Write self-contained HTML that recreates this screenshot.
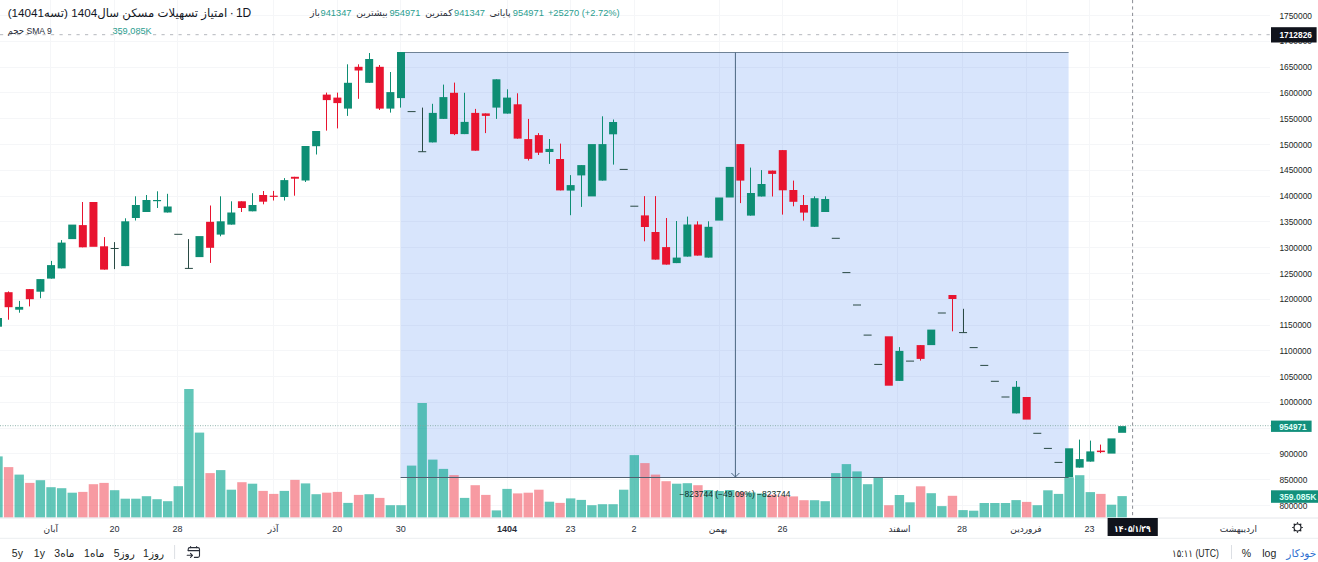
<!DOCTYPE html>
<html lang="fa"><head><meta charset="utf-8"><title>chart</title>
<style>html,body{margin:0;padding:0;background:#fff}body{width:1318px;height:562px;overflow:hidden;position:relative}</style></head>
<body>
<svg width="1318" height="562" viewBox="0 0 1318 562" style="position:absolute;left:0;top:0;display:block">
<rect x="0" y="0" width="1318" height="562" fill="#fff"/>
<g stroke="#f5f6f8" stroke-width="1" shape-rendering="crispEdges">
<line x1="0" y1="505.5" x2="1270" y2="505.5"/>
<line x1="0" y1="479.7" x2="1270" y2="479.7"/>
<line x1="0" y1="453.9" x2="1270" y2="453.9"/>
<line x1="0" y1="428.1" x2="1270" y2="428.1"/>
<line x1="0" y1="402.4" x2="1270" y2="402.4"/>
<line x1="0" y1="376.6" x2="1270" y2="376.6"/>
<line x1="0" y1="350.8" x2="1270" y2="350.8"/>
<line x1="0" y1="325.0" x2="1270" y2="325.0"/>
<line x1="0" y1="299.2" x2="1270" y2="299.2"/>
<line x1="0" y1="273.4" x2="1270" y2="273.4"/>
<line x1="0" y1="247.6" x2="1270" y2="247.6"/>
<line x1="0" y1="221.8" x2="1270" y2="221.8"/>
<line x1="0" y1="196.0" x2="1270" y2="196.0"/>
<line x1="0" y1="170.2" x2="1270" y2="170.2"/>
<line x1="0" y1="144.4" x2="1270" y2="144.4"/>
<line x1="0" y1="118.7" x2="1270" y2="118.7"/>
<line x1="0" y1="92.9" x2="1270" y2="92.9"/>
<line x1="0" y1="67.1" x2="1270" y2="67.1"/>
<line x1="0" y1="41.3" x2="1270" y2="41.3"/>
<line x1="0" y1="15.5" x2="1270" y2="15.5"/>
<line x1="50.8" y1="0" x2="50.8" y2="517.5"/>
<line x1="114.5" y1="0" x2="114.5" y2="517.5"/>
<line x1="177.6" y1="0" x2="177.6" y2="517.5"/>
<line x1="273.1" y1="0" x2="273.1" y2="517.5"/>
<line x1="337.2" y1="0" x2="337.2" y2="517.5"/>
<line x1="400.7" y1="0" x2="400.7" y2="517.5"/>
<line x1="507.0" y1="0" x2="507.0" y2="517.5"/>
<line x1="570.5" y1="0" x2="570.5" y2="517.5"/>
<line x1="634.0" y1="0" x2="634.0" y2="517.5"/>
<line x1="719.2" y1="0" x2="719.2" y2="517.5"/>
<line x1="782.5" y1="0" x2="782.5" y2="517.5"/>
<line x1="897.0" y1="0" x2="897.0" y2="517.5"/>
<line x1="962.0" y1="0" x2="962.0" y2="517.5"/>
<line x1="1026.0" y1="0" x2="1026.0" y2="517.5"/>
<line x1="1089.5" y1="0" x2="1089.5" y2="517.5"/>
</g>
<rect x="400.6" y="52.5" width="668.0" height="425.0" fill="#3d7ef0" fill-opacity="0.2"/>
<g>
<rect x="0.00" y="456.4" width="2.69" height="61.2" fill="rgba(14,167,146,0.65)"/>
<rect x="3.90" y="467.1" width="9.40" height="50.5" fill="rgba(243,100,112,0.65)"/>
<rect x="14.50" y="474.6" width="9.40" height="43.0" fill="rgba(14,167,146,0.65)"/>
<rect x="25.11" y="482.9" width="9.40" height="34.7" fill="rgba(243,100,112,0.65)"/>
<rect x="35.71" y="480.2" width="9.40" height="37.4" fill="rgba(14,167,146,0.65)"/>
<rect x="46.32" y="487.2" width="9.40" height="30.4" fill="rgba(14,167,146,0.65)"/>
<rect x="56.93" y="488.2" width="9.40" height="29.4" fill="rgba(14,167,146,0.65)"/>
<rect x="67.53" y="492.7" width="9.40" height="24.9" fill="rgba(14,167,146,0.65)"/>
<rect x="78.13" y="491.9" width="9.40" height="25.7" fill="rgba(243,100,112,0.65)"/>
<rect x="88.74" y="484.2" width="9.40" height="33.4" fill="rgba(243,100,112,0.65)"/>
<rect x="99.34" y="482.9" width="9.40" height="34.7" fill="rgba(243,100,112,0.65)"/>
<rect x="109.95" y="490.2" width="9.40" height="27.4" fill="rgba(14,167,146,0.65)"/>
<rect x="120.55" y="498.7" width="9.40" height="18.9" fill="rgba(14,167,146,0.65)"/>
<rect x="131.16" y="498.7" width="9.40" height="18.9" fill="rgba(14,167,146,0.65)"/>
<rect x="141.77" y="496.2" width="9.40" height="21.4" fill="rgba(14,167,146,0.65)"/>
<rect x="152.37" y="499.2" width="9.40" height="18.4" fill="rgba(14,167,146,0.65)"/>
<rect x="162.98" y="501.2" width="9.40" height="16.4" fill="rgba(14,167,146,0.65)"/>
<rect x="173.58" y="486.2" width="9.40" height="31.4" fill="rgba(14,167,146,0.65)"/>
<rect x="184.19" y="389.0" width="9.40" height="128.6" fill="rgba(14,167,146,0.65)"/>
<rect x="194.79" y="432.6" width="9.40" height="85.0" fill="rgba(14,167,146,0.65)"/>
<rect x="205.40" y="473.1" width="9.40" height="44.5" fill="rgba(243,100,112,0.65)"/>
<rect x="216.00" y="470.1" width="9.40" height="47.5" fill="rgba(14,167,146,0.65)"/>
<rect x="226.61" y="489.7" width="9.40" height="27.9" fill="rgba(14,167,146,0.65)"/>
<rect x="237.21" y="482.2" width="9.40" height="35.4" fill="rgba(243,100,112,0.65)"/>
<rect x="247.82" y="483.7" width="9.40" height="33.9" fill="rgba(14,167,146,0.65)"/>
<rect x="258.42" y="490.9" width="9.40" height="26.7" fill="rgba(243,100,112,0.65)"/>
<rect x="269.03" y="493.9" width="9.40" height="23.7" fill="rgba(243,100,112,0.65)"/>
<rect x="279.63" y="490.9" width="9.40" height="26.7" fill="rgba(14,167,146,0.65)"/>
<rect x="290.24" y="479.9" width="9.40" height="37.7" fill="rgba(243,100,112,0.65)"/>
<rect x="300.84" y="483.4" width="9.40" height="34.2" fill="rgba(14,167,146,0.65)"/>
<rect x="311.45" y="494.2" width="9.40" height="23.4" fill="rgba(14,167,146,0.65)"/>
<rect x="322.05" y="492.7" width="9.40" height="24.9" fill="rgba(243,100,112,0.65)"/>
<rect x="332.66" y="491.9" width="9.40" height="25.7" fill="rgba(243,100,112,0.65)"/>
<rect x="343.26" y="502.9" width="9.40" height="14.7" fill="rgba(14,167,146,0.65)"/>
<rect x="353.87" y="494.9" width="9.40" height="22.7" fill="rgba(243,100,112,0.65)"/>
<rect x="364.47" y="494.2" width="9.40" height="23.4" fill="rgba(14,167,146,0.65)"/>
<rect x="375.08" y="497.9" width="9.40" height="19.7" fill="rgba(243,100,112,0.65)"/>
<rect x="385.68" y="505.2" width="9.40" height="12.4" fill="rgba(14,167,146,0.65)"/>
<rect x="396.29" y="505.2" width="9.40" height="12.4" fill="rgba(14,167,146,0.65)"/>
<rect x="406.89" y="465.6" width="9.40" height="52.0" fill="rgba(14,167,146,0.65)"/>
<rect x="417.50" y="403.0" width="9.40" height="114.6" fill="rgba(14,167,146,0.65)"/>
<rect x="428.10" y="459.6" width="9.40" height="58.0" fill="rgba(14,167,146,0.65)"/>
<rect x="438.71" y="468.9" width="9.40" height="48.7" fill="rgba(14,167,146,0.65)"/>
<rect x="449.31" y="475.1" width="9.40" height="42.5" fill="rgba(243,100,112,0.65)"/>
<rect x="459.92" y="497.9" width="9.40" height="19.7" fill="rgba(14,167,146,0.65)"/>
<rect x="470.52" y="485.2" width="9.40" height="32.4" fill="rgba(243,100,112,0.65)"/>
<rect x="481.13" y="494.9" width="9.40" height="22.7" fill="rgba(243,100,112,0.65)"/>
<rect x="491.73" y="510.4" width="9.40" height="7.2" fill="rgba(14,167,146,0.65)"/>
<rect x="502.34" y="488.9" width="9.40" height="28.7" fill="rgba(14,167,146,0.65)"/>
<rect x="512.94" y="493.4" width="9.40" height="24.2" fill="rgba(243,100,112,0.65)"/>
<rect x="523.54" y="492.7" width="9.40" height="24.9" fill="rgba(243,100,112,0.65)"/>
<rect x="534.15" y="489.7" width="9.40" height="27.9" fill="rgba(243,100,112,0.65)"/>
<rect x="544.75" y="501.7" width="9.40" height="15.9" fill="rgba(14,167,146,0.65)"/>
<rect x="555.36" y="502.9" width="9.40" height="14.7" fill="rgba(243,100,112,0.65)"/>
<rect x="565.97" y="498.4" width="9.40" height="19.2" fill="rgba(14,167,146,0.65)"/>
<rect x="576.57" y="499.9" width="9.40" height="17.7" fill="rgba(14,167,146,0.65)"/>
<rect x="587.17" y="505.2" width="9.40" height="12.4" fill="rgba(14,167,146,0.65)"/>
<rect x="597.78" y="504.2" width="9.40" height="13.4" fill="rgba(14,167,146,0.65)"/>
<rect x="608.38" y="504.2" width="9.40" height="13.4" fill="rgba(14,167,146,0.65)"/>
<rect x="618.99" y="489.7" width="9.40" height="27.9" fill="rgba(14,167,146,0.65)"/>
<rect x="629.60" y="455.1" width="9.40" height="62.5" fill="rgba(14,167,146,0.65)"/>
<rect x="640.20" y="463.1" width="9.40" height="54.5" fill="rgba(243,100,112,0.65)"/>
<rect x="650.80" y="474.6" width="9.40" height="43.0" fill="rgba(243,100,112,0.65)"/>
<rect x="661.41" y="481.2" width="9.40" height="36.4" fill="rgba(243,100,112,0.65)"/>
<rect x="672.01" y="483.7" width="9.40" height="33.9" fill="rgba(14,167,146,0.65)"/>
<rect x="682.62" y="483.2" width="9.40" height="34.4" fill="rgba(14,167,146,0.65)"/>
<rect x="693.23" y="485.2" width="9.40" height="32.4" fill="rgba(243,100,112,0.65)"/>
<rect x="703.83" y="490.0" width="9.40" height="27.6" fill="rgba(14,167,146,0.65)"/>
<rect x="714.44" y="491.0" width="9.40" height="26.6" fill="rgba(14,167,146,0.65)"/>
<rect x="725.04" y="490.0" width="9.40" height="27.6" fill="rgba(14,167,146,0.65)"/>
<rect x="735.64" y="492.0" width="9.40" height="25.6" fill="rgba(243,100,112,0.65)"/>
<rect x="746.25" y="492.5" width="9.40" height="25.1" fill="rgba(14,167,146,0.65)"/>
<rect x="756.86" y="493.5" width="9.40" height="24.1" fill="rgba(14,167,146,0.65)"/>
<rect x="767.46" y="494.7" width="9.40" height="22.9" fill="rgba(243,100,112,0.65)"/>
<rect x="778.07" y="495.7" width="9.40" height="21.9" fill="rgba(243,100,112,0.65)"/>
<rect x="788.67" y="496.4" width="9.40" height="21.2" fill="rgba(243,100,112,0.65)"/>
<rect x="799.27" y="500.2" width="9.40" height="17.4" fill="rgba(243,100,112,0.65)"/>
<rect x="809.88" y="500.2" width="9.40" height="17.4" fill="rgba(14,167,146,0.65)"/>
<rect x="820.49" y="501.2" width="9.40" height="16.4" fill="rgba(14,167,146,0.65)"/>
<rect x="831.09" y="473.1" width="9.40" height="44.5" fill="rgba(14,167,146,0.65)"/>
<rect x="841.70" y="464.1" width="9.40" height="53.5" fill="rgba(14,167,146,0.65)"/>
<rect x="852.30" y="471.4" width="9.40" height="46.2" fill="rgba(14,167,146,0.65)"/>
<rect x="862.90" y="484.2" width="9.40" height="33.4" fill="rgba(14,167,146,0.65)"/>
<rect x="873.51" y="477.1" width="9.40" height="40.5" fill="rgba(14,167,146,0.65)"/>
<rect x="884.12" y="505.2" width="9.40" height="12.4" fill="rgba(243,100,112,0.65)"/>
<rect x="894.72" y="495.0" width="9.40" height="22.6" fill="rgba(14,167,146,0.65)"/>
<rect x="905.33" y="502.3" width="9.40" height="15.3" fill="rgba(14,167,146,0.65)"/>
<rect x="915.93" y="486.3" width="9.40" height="31.3" fill="rgba(243,100,112,0.65)"/>
<rect x="926.53" y="493.2" width="9.40" height="24.4" fill="rgba(14,167,146,0.65)"/>
<rect x="937.14" y="506.1" width="9.40" height="11.5" fill="rgba(14,167,146,0.65)"/>
<rect x="947.75" y="495.8" width="9.40" height="21.8" fill="rgba(243,100,112,0.65)"/>
<rect x="958.35" y="510.1" width="9.40" height="7.5" fill="rgba(14,167,146,0.65)"/>
<rect x="968.96" y="510.7" width="9.40" height="6.9" fill="rgba(14,167,146,0.65)"/>
<rect x="979.56" y="503.0" width="9.40" height="14.6" fill="rgba(14,167,146,0.65)"/>
<rect x="990.16" y="503.0" width="9.40" height="14.6" fill="rgba(14,167,146,0.65)"/>
<rect x="1000.77" y="503.0" width="9.40" height="14.6" fill="rgba(14,167,146,0.65)"/>
<rect x="1011.38" y="500.1" width="9.40" height="17.5" fill="rgba(14,167,146,0.65)"/>
<rect x="1021.98" y="501.9" width="9.40" height="15.7" fill="rgba(243,100,112,0.65)"/>
<rect x="1032.58" y="505.2" width="9.40" height="12.4" fill="rgba(14,167,146,0.65)"/>
<rect x="1043.19" y="490.3" width="9.40" height="27.3" fill="rgba(14,167,146,0.65)"/>
<rect x="1053.79" y="493.9" width="9.40" height="23.7" fill="rgba(14,167,146,0.65)"/>
<rect x="1064.40" y="477.4" width="9.40" height="40.2" fill="rgba(14,167,146,0.65)"/>
<rect x="1075.00" y="475.2" width="9.40" height="42.4" fill="rgba(14,167,146,0.65)"/>
<rect x="1085.61" y="492.1" width="9.40" height="25.5" fill="rgba(14,167,146,0.65)"/>
<rect x="1096.21" y="493.9" width="9.40" height="23.7" fill="rgba(243,100,112,0.65)"/>
<rect x="1106.82" y="504.7" width="9.40" height="12.9" fill="rgba(14,167,146,0.65)"/>
<rect x="1117.42" y="496.1" width="9.40" height="21.5" fill="rgba(14,167,146,0.65)"/>
</g>
<line x1="400.6" y1="52.5" x2="1068.6" y2="52.5" stroke="#6f8296" stroke-width="1"/>
<line x1="400.6" y1="477.5" x2="1068.6" y2="477.5" stroke="#4f5f70" stroke-width="1"/>
<line x1="735.4" y1="52.5" x2="735.4" y2="477.5" stroke="#4a6580" stroke-width="1"/>
<path d="M731.4,473.0 L735.4,477.0 L739.4,473.0" fill="none" stroke="#4a6580" stroke-width="1"/>
<g>
<rect x="0.00" y="318.0" width="1.99" height="8.7" fill="#0e8e74"/>
<rect x="8" y="291.4" width="1" height="28.3" fill="#e8142f"/>
<rect x="4.60" y="292.2" width="8.00" height="15.0" fill="#e8142f"/>
<rect x="19" y="300.9" width="1" height="11.8" fill="#0e8e74"/>
<rect x="15.20" y="306.9" width="8.00" height="2.8" fill="#0e8e74"/>
<rect x="29" y="289.1" width="1" height="17.3" fill="#e8142f"/>
<rect x="25.81" y="289.1" width="8.00" height="10.1" fill="#e8142f"/>
<rect x="40" y="279.1" width="1" height="19.1" fill="#0e8e74"/>
<rect x="36.41" y="279.1" width="8.00" height="12.6" fill="#0e8e74"/>
<rect x="51" y="260.9" width="1" height="17.7" fill="#0e8e74"/>
<rect x="47.02" y="265.1" width="8.00" height="13.5" fill="#0e8e74"/>
<rect x="61" y="240.1" width="1" height="28.3" fill="#0e8e74"/>
<rect x="57.63" y="242.6" width="8.00" height="25.8" fill="#0e8e74"/>
<rect x="68.23" y="224.6" width="8.00" height="14.5" fill="#0e8e74"/>
<rect x="82" y="202.0" width="1" height="45.3" fill="#e8142f"/>
<rect x="78.83" y="225.1" width="8.00" height="22.2" fill="#e8142f"/>
<rect x="89.44" y="202.0" width="8.00" height="44.8" fill="#e8142f"/>
<rect x="104" y="237.1" width="1" height="32.5" fill="#e8142f"/>
<rect x="100.05" y="246.3" width="8.00" height="23.3" fill="#e8142f"/>
<rect x="114" y="242.1" width="1" height="27.0" fill="#2a4a44"/>
<rect x="110.65" y="248.0" width="8.00" height="1.0" fill="#2a4a44"/>
<rect x="125" y="218.3" width="1" height="47.8" fill="#0e8e74"/>
<rect x="121.25" y="221.3" width="8.00" height="44.8" fill="#0e8e74"/>
<rect x="135" y="196.3" width="1" height="24.2" fill="#0e8e74"/>
<rect x="131.86" y="205.0" width="8.00" height="13.0" fill="#0e8e74"/>
<rect x="146" y="195.0" width="1" height="17.0" fill="#0e8e74"/>
<rect x="142.47" y="200.0" width="8.00" height="12.0" fill="#0e8e74"/>
<rect x="157" y="191.3" width="1" height="16.7" fill="#0e8e74"/>
<rect x="153.07" y="200.0" width="8.00" height="1.2" fill="#0e8e74"/>
<rect x="167" y="193.8" width="1" height="18.7" fill="#0e8e74"/>
<rect x="163.68" y="206.5" width="8.00" height="6.0" fill="#0e8e74"/>
<rect x="174.28" y="233.8" width="8.00" height="1.0" fill="#2a4a44"/>
<rect x="188" y="239.1" width="1" height="29.3" fill="#2a4a44"/>
<rect x="184.88" y="267.9" width="8.00" height="1.0" fill="#2a4a44"/>
<rect x="195.49" y="236.1" width="8.00" height="21.0" fill="#0e8e74"/>
<rect x="210" y="205.5" width="1" height="57.4" fill="#e8142f"/>
<rect x="206.09" y="221.8" width="8.00" height="26.0" fill="#e8142f"/>
<rect x="220" y="196.3" width="1" height="40.0" fill="#0e8e74"/>
<rect x="216.70" y="221.3" width="8.00" height="13.3" fill="#0e8e74"/>
<rect x="231" y="201.3" width="1" height="23.3" fill="#0e8e74"/>
<rect x="227.31" y="212.5" width="8.00" height="12.1" fill="#0e8e74"/>
<rect x="241" y="201.3" width="1" height="10.7" fill="#e8142f"/>
<rect x="237.91" y="201.3" width="8.00" height="6.7" fill="#e8142f"/>
<rect x="252" y="193.2" width="1" height="18.1" fill="#0e8e74"/>
<rect x="248.52" y="205.0" width="8.00" height="6.3" fill="#0e8e74"/>
<rect x="263" y="191.0" width="1" height="13.3" fill="#e8142f"/>
<rect x="259.12" y="195.0" width="8.00" height="6.7" fill="#e8142f"/>
<rect x="273" y="190.9" width="1" height="9.6" fill="#e8142f"/>
<rect x="269.73" y="195.7" width="8.00" height="1.2" fill="#e8142f"/>
<rect x="284" y="178.1" width="1" height="22.4" fill="#0e8e74"/>
<rect x="280.33" y="180.1" width="8.00" height="16.9" fill="#0e8e74"/>
<rect x="294" y="176.8" width="1" height="18.9" fill="#e8142f"/>
<rect x="290.94" y="176.8" width="8.00" height="1.9" fill="#e8142f"/>
<rect x="305" y="146.0" width="1" height="36.0" fill="#0e8e74"/>
<rect x="301.54" y="146.0" width="8.00" height="34.5" fill="#0e8e74"/>
<rect x="316" y="131.0" width="1" height="23.5" fill="#0e8e74"/>
<rect x="312.15" y="131.0" width="8.00" height="15.2" fill="#0e8e74"/>
<rect x="326" y="92.6" width="1" height="38.0" fill="#e8142f"/>
<rect x="322.75" y="94.6" width="8.00" height="5.5" fill="#e8142f"/>
<rect x="337" y="92.6" width="1" height="35.8" fill="#e8142f"/>
<rect x="333.36" y="97.6" width="8.00" height="5.5" fill="#e8142f"/>
<rect x="347" y="64.3" width="1" height="51.6" fill="#0e8e74"/>
<rect x="343.96" y="82.8" width="8.00" height="25.8" fill="#0e8e74"/>
<rect x="358" y="64.3" width="1" height="34.5" fill="#e8142f"/>
<rect x="354.57" y="66.8" width="8.00" height="3.7" fill="#e8142f"/>
<rect x="369" y="53.0" width="1" height="29.8" fill="#0e8e74"/>
<rect x="365.17" y="59.0" width="8.00" height="23.8" fill="#0e8e74"/>
<rect x="379" y="65.0" width="1" height="45.0" fill="#e8142f"/>
<rect x="375.78" y="66.8" width="8.00" height="41.8" fill="#e8142f"/>
<rect x="390" y="72.0" width="1" height="40.6" fill="#0e8e74"/>
<rect x="386.38" y="92.1" width="8.00" height="16.5" fill="#0e8e74"/>
<rect x="400" y="52.0" width="1" height="55.6" fill="#0e8e74"/>
<rect x="396.99" y="52.0" width="8.00" height="46.1" fill="#0e8e74"/>
<rect x="407.59" y="111.1" width="8.00" height="1.0" fill="#2a4a44"/>
<rect x="422" y="107.6" width="1" height="44.1" fill="#2a4a44"/>
<rect x="418.20" y="151.2" width="8.00" height="1.0" fill="#2a4a44"/>
<rect x="432" y="103.8" width="1" height="38.6" fill="#0e8e74"/>
<rect x="428.80" y="112.9" width="8.00" height="29.5" fill="#0e8e74"/>
<rect x="443" y="84.6" width="1" height="34.3" fill="#0e8e74"/>
<rect x="439.41" y="97.1" width="8.00" height="21.8" fill="#0e8e74"/>
<rect x="454" y="82.6" width="1" height="52.5" fill="#e8142f"/>
<rect x="450.01" y="92.8" width="8.00" height="41.3" fill="#e8142f"/>
<rect x="464" y="92.8" width="1" height="41.3" fill="#0e8e74"/>
<rect x="460.62" y="121.9" width="8.00" height="12.2" fill="#0e8e74"/>
<rect x="475" y="108.9" width="1" height="41.8" fill="#e8142f"/>
<rect x="471.22" y="112.9" width="8.00" height="37.8" fill="#e8142f"/>
<rect x="485" y="113.4" width="1" height="19.7" fill="#e8142f"/>
<rect x="481.83" y="113.4" width="8.00" height="2.5" fill="#e8142f"/>
<rect x="496" y="79.3" width="1" height="39.6" fill="#0e8e74"/>
<rect x="492.43" y="79.3" width="8.00" height="28.3" fill="#0e8e74"/>
<rect x="507" y="89.3" width="1" height="24.3" fill="#0e8e74"/>
<rect x="503.04" y="97.6" width="8.00" height="16.0" fill="#0e8e74"/>
<rect x="517" y="93.3" width="1" height="45.3" fill="#e8142f"/>
<rect x="513.64" y="104.3" width="8.00" height="34.3" fill="#e8142f"/>
<rect x="528" y="118.9" width="1" height="41.6" fill="#e8142f"/>
<rect x="524.25" y="139.1" width="8.00" height="19.8" fill="#e8142f"/>
<rect x="538" y="133.1" width="1" height="21.9" fill="#e8142f"/>
<rect x="534.85" y="135.1" width="8.00" height="17.6" fill="#e8142f"/>
<rect x="549" y="139.0" width="1" height="24.9" fill="#0e8e74"/>
<rect x="545.46" y="148.9" width="8.00" height="3.1" fill="#0e8e74"/>
<rect x="560" y="143.6" width="1" height="46.8" fill="#e8142f"/>
<rect x="556.06" y="159.0" width="8.00" height="31.4" fill="#e8142f"/>
<rect x="570" y="175.1" width="1" height="40.1" fill="#0e8e74"/>
<rect x="566.67" y="185.1" width="8.00" height="5.5" fill="#0e8e74"/>
<rect x="581" y="165.1" width="1" height="41.8" fill="#0e8e74"/>
<rect x="577.27" y="165.1" width="8.00" height="10.3" fill="#0e8e74"/>
<rect x="587.88" y="144.1" width="8.00" height="52.3" fill="#0e8e74"/>
<rect x="602" y="116.3" width="1" height="64.3" fill="#0e8e74"/>
<rect x="598.48" y="144.1" width="8.00" height="36.5" fill="#0e8e74"/>
<rect x="613" y="119.5" width="1" height="45.1" fill="#0e8e74"/>
<rect x="609.09" y="122.0" width="8.00" height="12.3" fill="#0e8e74"/>
<rect x="619.69" y="168.9" width="8.00" height="1.0" fill="#2a4a44"/>
<rect x="630.30" y="205.7" width="8.00" height="1.0" fill="#2a4a44"/>
<rect x="644" y="196.1" width="1" height="45.2" fill="#e8142f"/>
<rect x="640.90" y="215.4" width="8.00" height="11.6" fill="#e8142f"/>
<rect x="655" y="196.1" width="1" height="63.5" fill="#e8142f"/>
<rect x="651.50" y="232.0" width="8.00" height="27.6" fill="#e8142f"/>
<rect x="666" y="218.0" width="1" height="46.6" fill="#e8142f"/>
<rect x="662.11" y="247.1" width="8.00" height="17.5" fill="#e8142f"/>
<rect x="676" y="221.0" width="1" height="42.1" fill="#0e8e74"/>
<rect x="672.72" y="257.6" width="8.00" height="5.5" fill="#0e8e74"/>
<rect x="687" y="216.6" width="1" height="40.0" fill="#0e8e74"/>
<rect x="683.32" y="224.5" width="8.00" height="32.1" fill="#0e8e74"/>
<rect x="697" y="221.3" width="1" height="34.3" fill="#e8142f"/>
<rect x="693.93" y="224.5" width="8.00" height="31.1" fill="#e8142f"/>
<rect x="708" y="221.3" width="1" height="36.3" fill="#0e8e74"/>
<rect x="704.53" y="226.8" width="8.00" height="30.8" fill="#0e8e74"/>
<rect x="715.14" y="197.5" width="8.00" height="23.1" fill="#0e8e74"/>
<rect x="725.74" y="166.9" width="8.00" height="30.6" fill="#0e8e74"/>
<rect x="740" y="144.1" width="1" height="59.0" fill="#e8142f"/>
<rect x="736.35" y="144.1" width="8.00" height="36.5" fill="#e8142f"/>
<rect x="750" y="167.6" width="1" height="48.0" fill="#0e8e74"/>
<rect x="746.95" y="193.0" width="8.00" height="22.6" fill="#0e8e74"/>
<rect x="761" y="170.1" width="1" height="26.4" fill="#0e8e74"/>
<rect x="757.56" y="184.0" width="8.00" height="12.5" fill="#0e8e74"/>
<rect x="772" y="170.6" width="1" height="25.9" fill="#e8142f"/>
<rect x="768.16" y="170.6" width="8.00" height="3.3" fill="#e8142f"/>
<rect x="782" y="150.1" width="1" height="64.5" fill="#e8142f"/>
<rect x="778.77" y="150.1" width="8.00" height="40.2" fill="#e8142f"/>
<rect x="793" y="180.6" width="1" height="25.7" fill="#e8142f"/>
<rect x="789.37" y="190.0" width="8.00" height="11.8" fill="#e8142f"/>
<rect x="803" y="195.0" width="1" height="25.6" fill="#e8142f"/>
<rect x="799.98" y="205.0" width="8.00" height="7.6" fill="#e8142f"/>
<rect x="814" y="196.3" width="1" height="30.5" fill="#0e8e74"/>
<rect x="810.58" y="198.2" width="8.00" height="28.6" fill="#0e8e74"/>
<rect x="825" y="196.3" width="1" height="15.7" fill="#0e8e74"/>
<rect x="821.19" y="199.0" width="8.00" height="13.0" fill="#0e8e74"/>
<rect x="831.79" y="237.8" width="8.00" height="1.0" fill="#2a4a44"/>
<rect x="842.40" y="272.1" width="8.00" height="1.0" fill="#2a4a44"/>
<rect x="853.00" y="304.5" width="8.00" height="1.0" fill="#2a4a44"/>
<rect x="863.61" y="334.6" width="8.00" height="1.0" fill="#2a4a44"/>
<rect x="874.21" y="363.9" width="8.00" height="1.0" fill="#2a4a44"/>
<rect x="884.82" y="336.3" width="8.00" height="49.4" fill="#e8142f"/>
<rect x="899" y="347.1" width="1" height="33.8" fill="#0e8e74"/>
<rect x="895.42" y="350.9" width="8.00" height="30.0" fill="#0e8e74"/>
<rect x="906.03" y="360.6" width="8.00" height="1.0" fill="#2a4a44"/>
<rect x="920" y="345.1" width="1" height="15.5" fill="#e8142f"/>
<rect x="916.63" y="345.1" width="8.00" height="13.8" fill="#e8142f"/>
<rect x="927.24" y="329.6" width="8.00" height="15.5" fill="#0e8e74"/>
<rect x="937.84" y="312.5" width="8.00" height="1.0" fill="#2a4a44"/>
<rect x="952" y="295.0" width="1" height="36.3" fill="#e8142f"/>
<rect x="948.45" y="295.0" width="8.00" height="4.0" fill="#e8142f"/>
<rect x="963" y="308.8" width="1" height="23.8" fill="#2a4a44"/>
<rect x="959.05" y="332.1" width="8.00" height="1.0" fill="#2a4a44"/>
<rect x="969.66" y="347.1" width="8.00" height="1.0" fill="#2a4a44"/>
<rect x="980.26" y="364.9" width="8.00" height="1.0" fill="#2a4a44"/>
<rect x="990.87" y="380.8" width="8.00" height="1.0" fill="#2a4a44"/>
<rect x="1001.47" y="396.5" width="8.00" height="1.0" fill="#2a4a44"/>
<rect x="1016" y="381.0" width="1" height="32.4" fill="#0e8e74"/>
<rect x="1012.08" y="386.8" width="8.00" height="26.6" fill="#0e8e74"/>
<rect x="1022.68" y="397.0" width="8.00" height="22.6" fill="#e8142f"/>
<rect x="1033.28" y="432.8" width="8.00" height="1.0" fill="#2a4a44"/>
<rect x="1043.89" y="447.9" width="8.00" height="1.0" fill="#2a4a44"/>
<rect x="1054.49" y="461.9" width="8.00" height="1.0" fill="#2a4a44"/>
<rect x="1065.10" y="448.3" width="8.00" height="28.9" fill="#0e8e74"/>
<rect x="1079" y="439.6" width="1" height="28.0" fill="#0e8e74"/>
<rect x="1075.70" y="459.1" width="8.00" height="8.5" fill="#0e8e74"/>
<rect x="1090" y="440.6" width="1" height="21.0" fill="#0e8e74"/>
<rect x="1086.31" y="451.4" width="8.00" height="10.2" fill="#0e8e74"/>
<rect x="1100" y="444.6" width="1" height="8.5" fill="#e8142f"/>
<rect x="1096.91" y="450.6" width="8.00" height="1.5" fill="#e8142f"/>
<rect x="1107.52" y="438.4" width="8.00" height="15.2" fill="#0e8e74"/>
<rect x="1118.12" y="426.1" width="8.00" height="6.7" fill="#0e8e74"/>
</g>
<line x1="0" y1="425.7" x2="1271" y2="425.7" stroke="#7fa8a0" stroke-width="1" stroke-dasharray="1 1.5" stroke-opacity="0.85"/>
<line x1="0" y1="34.7" x2="1271" y2="34.7" stroke="#b4b7bd" stroke-width="1" stroke-dasharray="3.2 5.3"/>
<line x1="1132.6" y1="0" x2="1132.6" y2="518" stroke="#8a8d94" stroke-width="1" stroke-dasharray="3.2 3.2"/>
<line x1="0" y1="518" x2="1318" y2="518" stroke="#e4e6ea" stroke-width="1"/>
<line x1="0" y1="538.3" x2="1318" y2="538.3" stroke="#eceef1" stroke-width="1"/>
<text x="1279.4" y="508.61" font-size="8.4" fill="#1c1f26" text-anchor="start" font-weight="normal" font-family="'Liberation Sans','DejaVu Sans',sans-serif" >800000</text>
<text x="1279.4" y="482.82000000000005" font-size="8.4" fill="#1c1f26" text-anchor="start" font-weight="normal" font-family="'Liberation Sans','DejaVu Sans',sans-serif" >850000</text>
<text x="1279.4" y="457.03000000000003" font-size="8.4" fill="#1c1f26" text-anchor="start" font-weight="normal" font-family="'Liberation Sans','DejaVu Sans',sans-serif" >900000</text>
<text x="1279.4" y="405.45000000000005" font-size="8.4" fill="#1c1f26" text-anchor="start" font-weight="normal" font-family="'Liberation Sans','DejaVu Sans',sans-serif" >1000000</text>
<text x="1279.4" y="379.66" font-size="8.4" fill="#1c1f26" text-anchor="start" font-weight="normal" font-family="'Liberation Sans','DejaVu Sans',sans-serif" >1050000</text>
<text x="1279.4" y="353.87" font-size="8.4" fill="#1c1f26" text-anchor="start" font-weight="normal" font-family="'Liberation Sans','DejaVu Sans',sans-serif" >1100000</text>
<text x="1279.4" y="328.08000000000004" font-size="8.4" fill="#1c1f26" text-anchor="start" font-weight="normal" font-family="'Liberation Sans','DejaVu Sans',sans-serif" >1150000</text>
<text x="1279.4" y="302.29" font-size="8.4" fill="#1c1f26" text-anchor="start" font-weight="normal" font-family="'Liberation Sans','DejaVu Sans',sans-serif" >1200000</text>
<text x="1279.4" y="276.5" font-size="8.4" fill="#1c1f26" text-anchor="start" font-weight="normal" font-family="'Liberation Sans','DejaVu Sans',sans-serif" >1250000</text>
<text x="1279.4" y="250.71" font-size="8.4" fill="#1c1f26" text-anchor="start" font-weight="normal" font-family="'Liberation Sans','DejaVu Sans',sans-serif" >1300000</text>
<text x="1279.4" y="224.92" font-size="8.4" fill="#1c1f26" text-anchor="start" font-weight="normal" font-family="'Liberation Sans','DejaVu Sans',sans-serif" >1350000</text>
<text x="1279.4" y="199.13" font-size="8.4" fill="#1c1f26" text-anchor="start" font-weight="normal" font-family="'Liberation Sans','DejaVu Sans',sans-serif" >1400000</text>
<text x="1279.4" y="173.34" font-size="8.4" fill="#1c1f26" text-anchor="start" font-weight="normal" font-family="'Liberation Sans','DejaVu Sans',sans-serif" >1450000</text>
<text x="1279.4" y="147.54999999999998" font-size="8.4" fill="#1c1f26" text-anchor="start" font-weight="normal" font-family="'Liberation Sans','DejaVu Sans',sans-serif" >1500000</text>
<text x="1279.4" y="121.75999999999999" font-size="8.4" fill="#1c1f26" text-anchor="start" font-weight="normal" font-family="'Liberation Sans','DejaVu Sans',sans-serif" >1550000</text>
<text x="1279.4" y="95.97" font-size="8.4" fill="#1c1f26" text-anchor="start" font-weight="normal" font-family="'Liberation Sans','DejaVu Sans',sans-serif" >1600000</text>
<text x="1279.4" y="70.17999999999999" font-size="8.4" fill="#1c1f26" text-anchor="start" font-weight="normal" font-family="'Liberation Sans','DejaVu Sans',sans-serif" >1650000</text>
<text x="1279.4" y="44.39" font-size="8.4" fill="#1c1f26" text-anchor="start" font-weight="normal" font-family="'Liberation Sans','DejaVu Sans',sans-serif" >1700000</text>
<text x="1279.4" y="18.6" font-size="8.4" fill="#1c1f26" text-anchor="start" font-weight="normal" font-family="'Liberation Sans','DejaVu Sans',sans-serif" >1750000</text>
<rect x="1271" y="27.2" width="45.6" height="15.3" fill="#10131c"/>
<text x="1279.4" y="38" font-size="8.4" fill="#fff" text-anchor="start" font-weight="bold" font-family="'Liberation Sans','DejaVu Sans',sans-serif" >1712826</text>
<rect x="1271" y="420.6" width="40.6" height="11.3" fill="#12907c"/>
<text x="1279.2" y="429.5" font-size="8.6" fill="#e4fffa" text-anchor="start" font-weight="bold" font-family="'Liberation Sans','DejaVu Sans',sans-serif" textLength="27.5" lengthAdjust="spacingAndGlyphs">954971</text>
<rect x="1271" y="490.3" width="47" height="12.5" fill="#12907c"/>
<text x="1279.2" y="500.1" font-size="9.3" fill="#d8fff6" text-anchor="start" font-weight="bold" font-family="'Liberation Sans','DejaVu Sans',sans-serif" textLength="37.3" lengthAdjust="spacingAndGlyphs">359.085K</text>
<text x="50.8" y="531.6" font-size="9" fill="#2a2e39" text-anchor="middle" font-weight="normal" font-family="'Liberation Sans','DejaVu Sans',sans-serif" >آبان</text>
<text x="114.5" y="531.6" font-size="9" fill="#2a2e39" text-anchor="middle" font-weight="normal" font-family="'Liberation Sans','DejaVu Sans',sans-serif" >20</text>
<text x="177.6" y="531.6" font-size="9" fill="#2a2e39" text-anchor="middle" font-weight="normal" font-family="'Liberation Sans','DejaVu Sans',sans-serif" >28</text>
<text x="273.1" y="531.6" font-size="9" fill="#2a2e39" text-anchor="middle" font-weight="normal" font-family="'Liberation Sans','DejaVu Sans',sans-serif" >آذر</text>
<text x="337.2" y="531.6" font-size="9" fill="#2a2e39" text-anchor="middle" font-weight="normal" font-family="'Liberation Sans','DejaVu Sans',sans-serif" >20</text>
<text x="400.7" y="531.6" font-size="9" fill="#2a2e39" text-anchor="middle" font-weight="normal" font-family="'Liberation Sans','DejaVu Sans',sans-serif" >30</text>
<text x="507" y="531.6" font-size="9" fill="#2a2e39" text-anchor="middle" font-weight="bold" font-family="'Liberation Sans','DejaVu Sans',sans-serif" >1404</text>
<text x="570.5" y="531.6" font-size="9" fill="#2a2e39" text-anchor="middle" font-weight="normal" font-family="'Liberation Sans','DejaVu Sans',sans-serif" >23</text>
<text x="634" y="531.6" font-size="9" fill="#2a2e39" text-anchor="middle" font-weight="normal" font-family="'Liberation Sans','DejaVu Sans',sans-serif" >2</text>
<text x="718" y="531.6" font-size="9" fill="#2a2e39" text-anchor="middle" font-weight="normal" font-family="'Liberation Sans','DejaVu Sans',sans-serif" >بهمن</text>
<text x="782.5" y="531.6" font-size="9" fill="#2a2e39" text-anchor="middle" font-weight="normal" font-family="'Liberation Sans','DejaVu Sans',sans-serif" >26</text>
<text x="899.5" y="531.6" font-size="9" fill="#2a2e39" text-anchor="middle" font-weight="normal" font-family="'Liberation Sans','DejaVu Sans',sans-serif" >اسفند</text>
<text x="962" y="531.6" font-size="9" fill="#2a2e39" text-anchor="middle" font-weight="normal" font-family="'Liberation Sans','DejaVu Sans',sans-serif" >28</text>
<text x="1026" y="531.6" font-size="9" fill="#2a2e39" text-anchor="middle" font-weight="normal" font-family="'Liberation Sans','DejaVu Sans',sans-serif" >فروردین</text>
<text x="1089.5" y="531.6" font-size="9" fill="#2a2e39" text-anchor="middle" font-weight="normal" font-family="'Liberation Sans','DejaVu Sans',sans-serif" >23</text>
<text x="1238.4" y="531.6" font-size="9" fill="#2a2e39" text-anchor="middle" font-weight="normal" font-family="'Liberation Sans','DejaVu Sans',sans-serif" >اردیبهشت</text>
<rect x="1107.6" y="518" width="50.2" height="18" fill="#10131c"/>
<text x="1114" y="532" font-size="9" fill="#fff" text-anchor="start" font-weight="bold" font-family="'Liberation Sans','DejaVu Sans',sans-serif" textLength="36.6" lengthAdjust="spacingAndGlyphs">۱۴۰۵/۱/۲۹</text>
<g stroke="#1c1f26" stroke-width="1.2" fill="none"><circle cx="1297.5" cy="527.5" r="3.5"/>
<line x1="1301.30" y1="527.50" x2="1302.80" y2="527.50"/>
<line x1="1300.19" y1="530.19" x2="1301.25" y2="531.25"/>
<line x1="1297.50" y1="531.30" x2="1297.50" y2="532.80"/>
<line x1="1294.81" y1="530.19" x2="1293.75" y2="531.25"/>
<line x1="1293.70" y1="527.50" x2="1292.20" y2="527.50"/>
<line x1="1294.81" y1="524.81" x2="1293.75" y2="523.75"/>
<line x1="1297.50" y1="523.70" x2="1297.50" y2="522.20"/>
<line x1="1300.19" y1="524.81" x2="1301.25" y2="523.75"/>
</g>
<text x="17.4" y="557" font-size="10.5" fill="#1c1f26" text-anchor="middle" font-weight="normal" font-family="'Liberation Sans','DejaVu Sans',sans-serif" >5y</text>
<text x="39.4" y="557" font-size="10.5" fill="#1c1f26" text-anchor="middle" font-weight="normal" font-family="'Liberation Sans','DejaVu Sans',sans-serif" >1y</text>
<text x="64.4" y="557" font-size="10.5" fill="#1c1f26" text-anchor="middle" font-weight="normal" font-family="'Liberation Sans','DejaVu Sans',sans-serif" >3ماه</text>
<text x="94.2" y="557" font-size="10.5" fill="#1c1f26" text-anchor="middle" font-weight="normal" font-family="'Liberation Sans','DejaVu Sans',sans-serif" >1ماه</text>
<text x="124.2" y="557" font-size="10.5" fill="#1c1f26" text-anchor="middle" font-weight="normal" font-family="'Liberation Sans','DejaVu Sans',sans-serif" >5روز</text>
<text x="153.6" y="557" font-size="10.5" fill="#1c1f26" text-anchor="middle" font-weight="normal" font-family="'Liberation Sans','DejaVu Sans',sans-serif" >1روز</text>
<line x1="174.6" y1="545" x2="174.6" y2="559" stroke="#dcdfe4" stroke-width="1"/>
<g stroke="#2a2e39" stroke-width="1.1" fill="none" stroke-linecap="round" stroke-linejoin="round"><path d="M188.2,550.6 V549.2 Q188.2,547.6 189.8,547.6 H197.9 Q199.5,547.6 199.5,549.2 V555.8 Q199.5,557.4 197.9,557.4 H194.4"/><path d="M188.2,550.6 H199.5"/><path d="M190.6,546.6 V547.6 M196.6,546.6 V547.6"/><path d="M187.2,555.3 H192.4 M190.5,553.3 L192.5,555.3 L190.5,557.3"/></g>
<text x="1172" y="557" font-size="10.5" fill="#1c1f26" text-anchor="start" font-weight="normal" font-family="'Liberation Sans','DejaVu Sans',sans-serif" textLength="47" lengthAdjust="spacingAndGlyphs">۱۵:۱۱ (UTC)</text>
<line x1="1231.5" y1="545" x2="1231.5" y2="559" stroke="#dcdfe4" stroke-width="1"/>
<text x="1246.3" y="557" font-size="10.5" fill="#1c1f26" text-anchor="middle" font-weight="normal" font-family="'Liberation Sans','DejaVu Sans',sans-serif" >%</text>
<text x="1269.3" y="557" font-size="10.5" fill="#1c1f26" text-anchor="middle" font-weight="normal" font-family="'Liberation Sans','DejaVu Sans',sans-serif" >log</text>
<text x="1301.3" y="557" font-size="10.5" fill="#2f6fd0" text-anchor="middle" font-weight="normal" font-family="'Liberation Sans','DejaVu Sans',sans-serif" >خودکار</text>
<text x="117.4" y="17.3" font-size="11.7" fill="#14171f" text-anchor="middle" font-weight="normal" font-family="'Liberation Sans','DejaVu Sans',sans-serif" direction="rtl" unicode-bidi="embed">امتیاز تسهیلات مسکن سال1404 (تسه14041)</text>
<text x="231.8" y="17.3" font-size="12" fill="#14171f" text-anchor="middle" font-weight="normal" font-family="'Liberation Sans','DejaVu Sans',sans-serif" >·</text>
<text x="243.6" y="17.3" font-size="12" fill="#14171f" text-anchor="middle" font-weight="normal" font-family="'Liberation Sans','DejaVu Sans',sans-serif" >1D</text>
<text x="7.5" y="33.9" font-size="8.6" fill="#2a2e39" text-anchor="start" font-weight="normal" font-family="'Liberation Sans','DejaVu Sans',sans-serif" >حجم SMA 9</text>
<text x="112.4" y="33.6" font-size="9.2" fill="#2a9d8f" text-anchor="start" font-weight="normal" font-family="'Liberation Sans','DejaVu Sans',sans-serif" >359.085K</text>
<text x="310" y="16.3" font-size="9.3" fill="#2a2e39" text-anchor="start" font-weight="normal" font-family="'Liberation Sans','DejaVu Sans',sans-serif" >باز</text>
<text x="320.5" y="16.3" font-size="9.3" fill="#2a9d8f" text-anchor="start" font-weight="normal" font-family="'Liberation Sans','DejaVu Sans',sans-serif" >941347</text>
<text x="356.3" y="16.3" font-size="9.3" fill="#2a2e39" text-anchor="start" font-weight="normal" font-family="'Liberation Sans','DejaVu Sans',sans-serif" >بیشترین</text>
<text x="389.4" y="16.3" font-size="9.3" fill="#2a9d8f" text-anchor="start" font-weight="normal" font-family="'Liberation Sans','DejaVu Sans',sans-serif" >954971</text>
<text x="425.2" y="16.3" font-size="9.3" fill="#2a2e39" text-anchor="start" font-weight="normal" font-family="'Liberation Sans','DejaVu Sans',sans-serif" >کمترین</text>
<text x="454" y="16.3" font-size="9.3" fill="#2a9d8f" text-anchor="start" font-weight="normal" font-family="'Liberation Sans','DejaVu Sans',sans-serif" >941347</text>
<text x="489.5" y="16.3" font-size="9.3" fill="#2a2e39" text-anchor="start" font-weight="normal" font-family="'Liberation Sans','DejaVu Sans',sans-serif" >پایانی</text>
<text x="512.8" y="16.3" font-size="9.3" fill="#2a9d8f" text-anchor="start" font-weight="normal" font-family="'Liberation Sans','DejaVu Sans',sans-serif" >954971</text>
<text x="547.9" y="16.3" font-size="9.3" fill="#2a9d8f" text-anchor="start" font-weight="normal" font-family="'Liberation Sans','DejaVu Sans',sans-serif" >+25270</text>
<text x="581.7" y="16.3" font-size="9.3" fill="#2a9d8f" text-anchor="start" font-weight="normal" font-family="'Liberation Sans','DejaVu Sans',sans-serif" >(+2.72%)</text>
<text x="735" y="497.2" font-size="8.5" fill="#0f2f29" text-anchor="middle" font-weight="normal" font-family="'Liberation Sans','DejaVu Sans',sans-serif" >−823744 (−49.09%) −823744</text>
</svg>
</body></html>
